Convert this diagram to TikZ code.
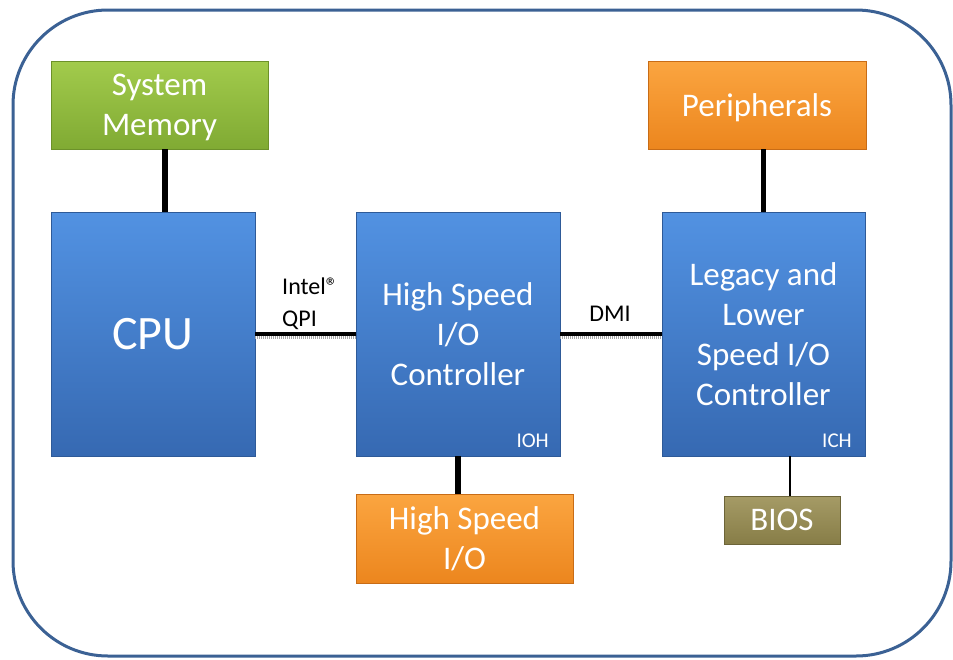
\documentclass[tikz,border=0pt]{standalone}
\usepackage{fontspec}
\setmainfont{Carlito}
\definecolor{frameC}{HTML}{3B6194}
\definecolor{blueT}{HTML}{5292E2}
\definecolor{blueB}{HTML}{3669B2}
\definecolor{blueD}{HTML}{2E5A98}
\definecolor{greenT}{HTML}{A2CB4C}
\definecolor{greenB}{HTML}{80AA33}
\definecolor{greenD}{HTML}{6C912A}
\definecolor{orangeT}{HTML}{FBA540}
\definecolor{orangeB}{HTML}{EC861E}
\definecolor{orangeD}{HTML}{C86C16}
\definecolor{oliveT}{HTML}{A59B66}
\definecolor{oliveB}{HTML}{877D47}
\definecolor{oliveD}{HTML}{6C6438}
\tikzset{
  blk/.style={rectangle, inner sep=0pt, align=center, text=white,
    font=\fontsize{33}{40}\selectfont, line width=0.8pt},
  bluebox/.style={blk, draw=blueD, top color=blueT, bottom color=blueB},
  greenbox/.style={blk, draw=greenD, top color=greenT, bottom color=greenB},
  orangebox/.style={blk, draw=orangeD, top color=orangeT, bottom color=orangeB},
  olivebox/.style={blk, draw=oliveD, top color=oliveT, bottom color=oliveB},
  conn/.style={line width=5.5pt, black},
  thinconn/.style={line width=2pt, black},
  bus/.style={line width=4pt, black},
  busshade/.style={line width=3pt, gray!70, dash pattern=on 1pt off 1pt},
  lbl/.style={inner sep=0pt, font=\fontsize{24}{32}\selectfont, text=black},
  tag/.style={inner sep=0pt, font=\fontsize{21}{24}\selectfont, text=white}
}
\begin{document}
\begin{tikzpicture}[x=1pt,y=-1pt]
\useasboundingbox (0,0) rectangle (953,659);
\draw[frameC, line width=3pt, rounded corners=95pt] (13,10) rectangle (951,656);

\node[greenbox, minimum width=217pt, minimum height=88pt, text depth=0pt] (mem) at (159.5,105) {System\\Memory};
\node[bluebox, minimum width=204pt, minimum height=244pt, font=\fontsize{48}{56}\selectfont] (cpu) at (153,334) {CPU};
\node[bluebox, minimum width=204pt, minimum height=244pt] (ioh) at (458,334) {High Speed\\I/O\\Controller};
\node[bluebox, minimum width=203pt, minimum height=244pt] (ich) at (763.5,334) {Legacy and\\Lower\\Speed I/O\\Controller};
\node[orangebox, minimum width=218pt, minimum height=88pt, text depth=0pt] (per) at (757,105) {Peripherals};
\node[orangebox, minimum width=217pt, minimum height=89pt] (hsio) at (464.5,538.5) {High Speed\\I/O};
\node[olivebox, minimum width=116pt, minimum height=48pt] (bios) at (782,520) {BIOS};

\node[tag, anchor=base east] (iohtag) at (549,447) {IOH};
\node[tag, anchor=base east] (ichtag) at (852,447) {ICH};

\draw[conn] ([xshift=5.5pt]mem.south) -- ([xshift=5.5pt]mem.south |- cpu.north);
\draw[conn] (per.south -| ich.north) -- (ich.north);
\draw[conn] (ioh.south) -- (ioh.south |- hsio.north);
\draw[thinconn] ([xshift=8pt]bios.north) -- ([xshift=8pt]bios.north |- ich.south);

\draw[busshade] ([yshift=-3.5pt]cpu.east) -- ([yshift=-3.5pt]ioh.west);
\draw[bus] (cpu.east) -- (ioh.west);
\draw[busshade] ([yshift=-3.5pt]ioh.east) -- ([yshift=-3.5pt]ich.west);
\draw[bus] (ioh.east) -- (ich.west);

\node[lbl, anchor=north west, align=left] (qpi) at (282,278) {Intel®\\QPI};
\node[lbl, anchor=base] (dmi) at (610,321) {DMI};
\end{tikzpicture}
\end{document}
